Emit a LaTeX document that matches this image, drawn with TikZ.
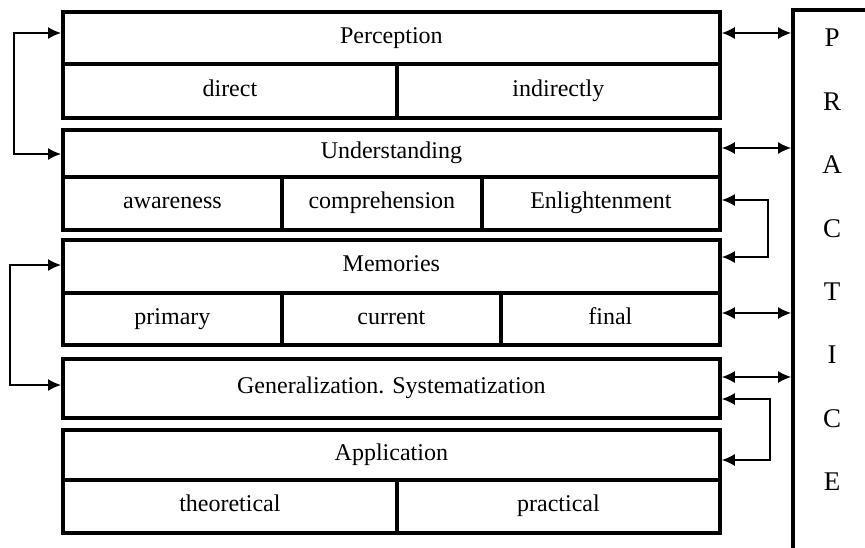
\documentclass[tikz,border=0pt]{standalone}
\usepackage{fontspec}
\setmainfont{Liberation Serif}
\usetikzlibrary{arrows.meta}
\begin{document}
\begin{tikzpicture}[x=1pt,y=-1pt,
 cell/.style={draw, line width=3.8pt, inner sep=0pt, anchor=north west,
   text height=16pt, text depth=5pt, font=\fontsize{24}{27}\selectfont},
 letter/.style={inner sep=0pt, font=\fontsize{27}{30}\selectfont},
 conn/.style={line width=1.6pt, {Latex[length=13pt,width=12pt]}-{Latex[length=13pt,width=12pt]}},
 frame/.style={line width=3.8pt},
]
\useasboundingbox (0,0) rectangle (865,547);
% Perception
\node[cell, minimum width=657pt, minimum height=52pt] (perc) at (61,10) {Perception};
\node[cell, minimum width=334pt, minimum height=54pt] (direct) at (61,62) {direct};
\node[cell, minimum width=323pt, minimum height=54pt] (indir) at (395,62) {indirectly};
% Understanding
\node[cell, minimum width=657pt, minimum height=47pt] (und) at (61,128) {Understanding};
\node[cell, minimum width=219pt, minimum height=53pt] (aware) at (61,175) {awareness};
\node[cell, minimum width=200pt, minimum height=53pt] (compr) at (280,175) {comprehension};
\node[cell, minimum width=238pt, minimum height=53pt] (enl) at (480,175) {Enlightenment};
% Memories
\node[cell, minimum width=657pt, minimum height=53pt] (mem) at (61,238) {Memories};
\node[cell, minimum width=219pt, minimum height=52pt] (prim) at (61,291) {primary};
\node[cell, minimum width=219pt, minimum height=52pt] (curr) at (280,291) {current};
\node[cell, minimum width=219pt, minimum height=52pt] (fin) at (499,291) {final};
% Generalization
\node[cell, minimum width=657pt, minimum height=59pt] (gen) at (61,357) {Generalization. Systematization};
% Application
\node[cell, minimum width=657pt, minimum height=50pt] (app) at (61,428) {Application};
\node[cell, minimum width=334pt, minimum height=53pt] (theo) at (61,478) {theoretical};
\node[cell, minimum width=323pt, minimum height=53pt] (prac) at (395,478) {practical};
% Practice frame
\coordinate (ptop) at (793,10);
\coordinate (pl) at (791.1,10);
\draw[frame] (ptop -| 870,0) -- (ptop) -- (ptop |- 0,552);
\node[letter] (l1) at (832,38) {P};
\node[letter] (l2) at (832,101.4) {R};
\node[letter] (l3) at (832,164.8) {A};
\node[letter] (l4) at (832,228.2) {C};
\node[letter] (l5) at (832,291.6) {T};
\node[letter] (l6) at (832,355) {I};
\node[letter] (l7) at (832,418.4) {C};
\node[letter] (l8) at (832,481.8) {E};
% double arrows to practice
\draw[conn] (perc.east |- 0,33) -- (pl |- 0,33);
\draw[conn] (und.east |- 0,148) -- (pl |- 0,148);
\draw[conn] (fin.east |- 0,313) -- (pl |- 0,313);
\draw[conn] (gen.east |- 0,377) -- (pl |- 0,377);
% loops
\draw[conn] (perc.west |- 0,33) -- ++(-47,0) |- (und.west |- 0,154);
\draw[conn] (mem.west |- 0,265) -- ++(-51,0) |- (gen.west |- 0,385);
\draw[conn] (enl.east |- 0,200) -- ++(46,0) |- (mem.east |- 0,257);
\draw[conn] (gen.east |- 0,399) -- ++(48,0) |- (app.east |- 0,460);
\end{tikzpicture}
\end{document}
